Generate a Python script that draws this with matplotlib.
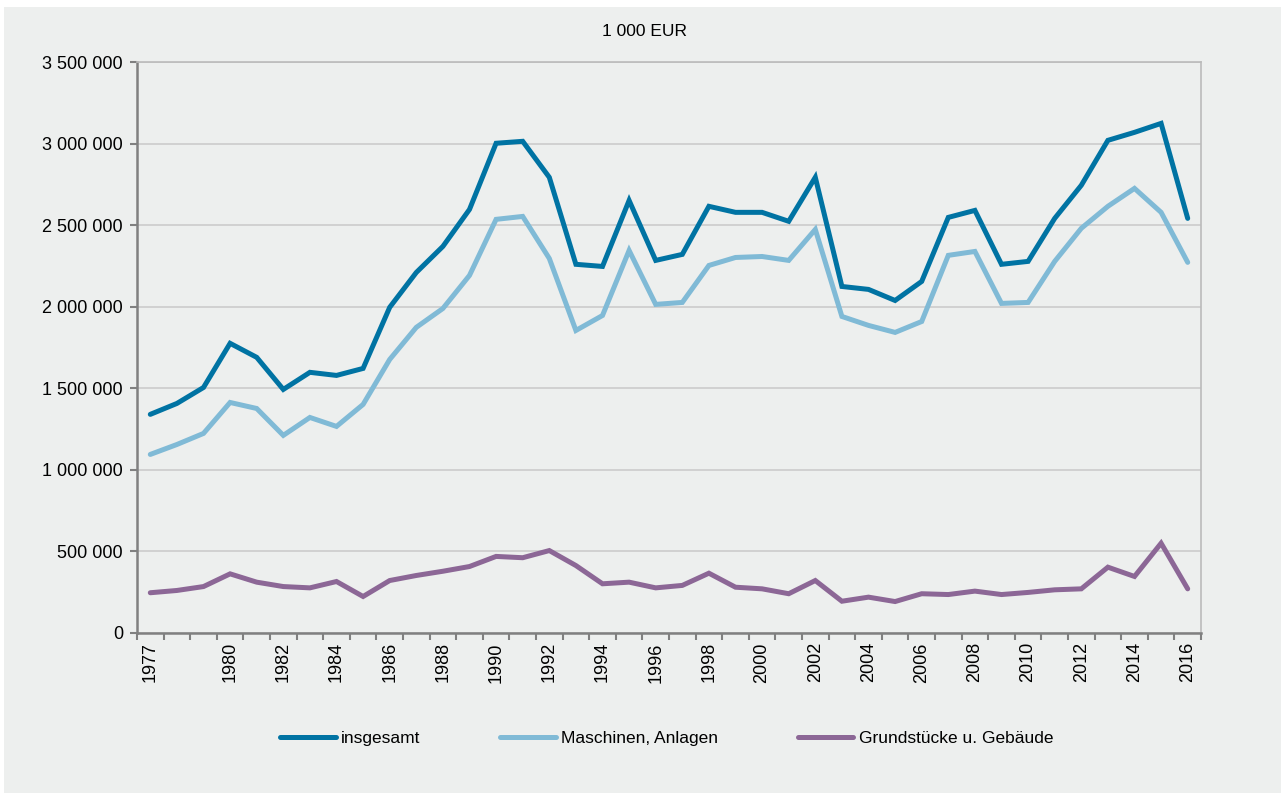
import matplotlib
matplotlib.use("Agg")
import matplotlib.pyplot as plt
from matplotlib.patches import Rectangle
from matplotlib.ticker import FuncFormatter, FixedLocator

plt.rcParams['font.family'] = ['Liberation Sans', 'DejaVu Sans']

years = list(range(1977, 2017))
insgesamt = [1339, 1406, 1504, 1775, 1689, 1492, 1597, 1578, 1621, 1996,
             2210, 2370, 2597, 3003, 3015, 2794, 2260, 2247, 2652, 2284,
             2321, 2616, 2579, 2579, 2524, 2794, 2124, 2106, 2038, 2155,
             2548, 2591, 2260, 2278, 2542, 2745, 3021, 3070, 3125, 2542]
maschinen = [1093, 1154, 1222, 1412, 1375, 1210, 1320, 1265, 1400, 1676,
             1873, 1989, 2192, 2536, 2554, 2296, 1854, 1946, 2345, 2014,
             2026, 2253, 2302, 2308, 2284, 2474, 1940, 1885, 1842, 1909,
             2315, 2339, 2020, 2026, 2278, 2481, 2616, 2726, 2579, 2272]
grundstuecke = [244, 258, 282, 360, 309, 282, 274, 313, 221, 319,
                350, 376, 405, 467, 459, 503, 411, 299, 309, 274,
                289, 364, 278, 268, 238, 319, 192, 217, 190, 238,
                233, 254, 233, 246, 262, 268, 401, 344, 548, 268]
insgesamt = [v * 1000 for v in insgesamt]
maschinen = [v * 1000 for v in maschinen]
grundstuecke = [v * 1000 for v in grundstuecke]

label_years = [1977] + list(range(1980, 2017, 2))
series_names = ["insgesamt", "Maschinen, Anlagen", "Grundstücke u. Gebäude"]
colors = ["#0073A3", "#80BAD6", "#8C6796"]
title = "1 000 EUR"

W, H = 1282, 794
fig = plt.figure(figsize=(W / 100, H / 100), dpi=100, facecolor="white")
bg = "#EDEFEE"
fig.patches.append(Rectangle((4 / W, 1 - 793 / H), (1281 - 4) / W, (793 - 7) / H,
                             transform=fig.transFigure, facecolor=bg,
                             edgecolor="none", zorder=-10))

ax = fig.add_axes([137 / W, 1 - 632.5 / H, (1201 - 137) / W, (632.5 - 62.3) / H])
ax.set_facecolor(bg)

for data, name, c in zip([insgesamt, maschinen, grundstuecke], series_names, colors):
    ax.plot(years, data, color=c, lw=3.6, label=name, solid_capstyle="round",
            solid_joinstyle="miter", zorder=3)

ax.set_xlim(years[0] - 0.5, years[-1] + 0.5)
ax.set_ylim(0, 3500000)
ax.set_yticks(range(0, 3500001, 500000))
ax.yaxis.set_major_formatter(FuncFormatter(lambda v, p: f"{int(v):,}".replace(",", " ")))
ax.grid(axis="y", color="#CCCCCC", lw=1.2, zorder=0)
ax.set_axisbelow(True)

ax.xaxis.set_major_locator(FixedLocator(label_years))
ax.set_xticklabels([str(y) for y in label_years], rotation=90)
ax.xaxis.set_minor_locator(FixedLocator([y - 0.5 for y in years] + [years[-1] + 0.5]))
ax.tick_params(axis="x", which="major", length=0, pad=7, labelsize=13)
ax.tick_params(axis="x", which="minor", length=5, width=1.5, color="#808080")
ax.tick_params(axis="y", length=5, width=1.5, color="#808080", labelsize=13, pad=5)

for s in ["left", "bottom"]:
    ax.spines[s].set_color("#808080")
    ax.spines[s].set_linewidth(1.8)
for s in ["top", "right"]:
    ax.spines[s].set_color("#BBBBBB")
    ax.spines[s].set_linewidth(1.2)

fig.text(645 / W, 1 - 31 / H, title, ha="center", va="center", fontsize=12.5)

fig.legend(loc="center", bbox_to_anchor=(0.52, 1 - 738 / H), ncol=3, frameon=False,
           fontsize=12.5, handlelength=3.2, handletextpad=0.3, columnspacing=4.6)

fig.savefig("out.png", dpi=100, facecolor="white")
